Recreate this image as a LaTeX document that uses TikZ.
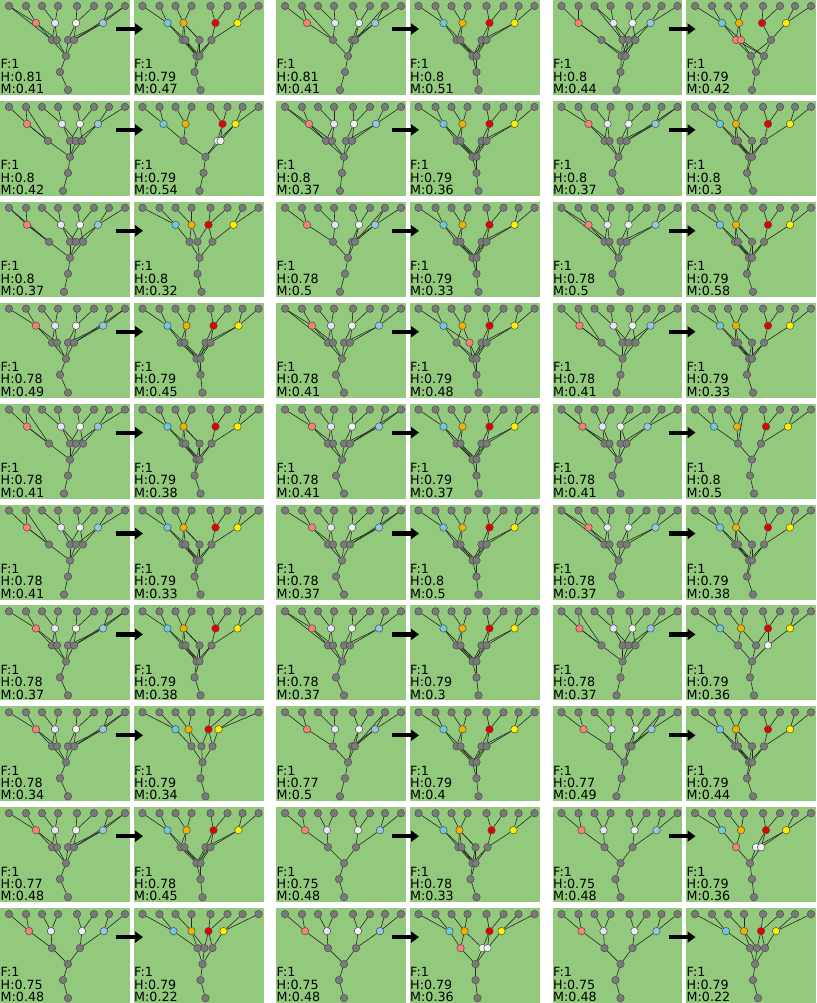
\documentclass[tikz,border=0pt]{standalone}
\usepackage{fontspec}
\setmainfont{DejaVu Sans}
\usetikzlibrary{arrows.meta}
\pgfdeclarelayer{back}\pgfdeclarelayer{edges}
\pgfsetlayers{back,edges,main}
\definecolor{bggreen}{RGB}{146,201,125}
\definecolor{G}{RGB}{122,122,122}
\definecolor{Ac1}{RGB}{250,128,114}
\definecolor{Ac2}{RGB}{228,228,250}
\definecolor{Ac3}{RGB}{238,248,240}
\definecolor{Ac4}{RGB}{150,200,230}
\definecolor{Bc1}{RGB}{110,200,222}
\definecolor{Bc2}{RGB}{240,180,0}
\definecolor{Bc3}{RGB}{232,0,0}
\definecolor{Bc4}{RGB}{255,240,0}
\colorlet{S}{Ac1}
\colorlet{W}{Ac3}
\tikzset{
  gn/.style={circle,draw=black!70,line width=0.5pt,fill=G,inner sep=0pt,minimum size=7.5pt},
  edge/.style={draw=black!85,line width=0.6pt},
  lbl/.style={anchor=base west,inner sep=0pt,font=\fontsize{12.7}{12.7}\selectfont},
  bigarrow/.style={-{Triangle[length=8pt,width=11pt]},line width=4.2pt}
}
\newcommand\place[3]{\begin{scope}[shift={(#1,#2)}]#3\end{scope}}
\newcommand\grp[3]{%
  \begin{pgfonlayer}{back}
    \fill[bggreen] (#1,#2) rectangle ++(129.5,95);
    \fill[bggreen] ({#1+133.5},#2) rectangle ++(130,95);
  \end{pgfonlayer}
  \coordinate (#3s) at ({#1+116},{#2+29});
  \coordinate (#3e) at ({#1+143},{#2+29});
  \draw[bigarrow] (#3s) -- (#3e);}
\newcommand\twotext[3]{%
  \node[lbl] (#1h) at (0.5,81.2) {H:#2};
  \node[lbl] (#1mm) at (0.5,93.6) {M:#3};}
% #1 id, #2 side, #3 mids, #4 level-2 x/a/b/colour, #5 level-3 xs, #6 chain x, #7 root x, #8 extras leaf/l2, #9 texts
\newcommand\pan[9]{%
  \foreach \xa [count=\ia] in {9,26,42,58,77,94,109,125} \node[gn] (#1l\ia) at (\xa,6) {};
  \foreach \xa [count=\ia] in {#3} \node[gn,fill=#2c\ia] (#1m\ia) at (\xa,23) {};
  \foreach \xa/\pa/\pb/\col [count=\ia] in {#4} \node[gn,fill=\col] (#1n\ia) at (\xa,40) {};
  \foreach \xa [count=\ia] in {#5} \node[gn] (#1t\ia) at (\xa,56) {};
  \node[gn] (#1c) at (#6,72) {};
  \node[gn] (#1r) at (#7,90) {};
  \begin{pgfonlayer}{edges}
    \foreach \ia in {1,...,8} {\pgfmathtruncatemacro\mm{(\ia+1)/2}\draw[edge] (#1l\ia) -- (#1m\mm);}
    \foreach \xa/\pa/\pb/\col [count=\ia] in {#4} {%
      \draw[edge] (#1m\pa) -- (#1n\ia);
      \draw[edge] (#1m\pb) -- (#1n\ia);
      \foreach \xb [count=\ib] in {#5} \draw[edge] (#1n\ia) -- (#1t\ib);}
    \foreach \xb [count=\ib] in {#5} \draw[edge] (#1t\ib) -- (#1c);
    \draw[edge] (#1c) -- (#1r);
    \foreach \pa/\pb in {#8} {\ifnum\pa>0 \draw[edge] (#1l\pa) -- (#1n\pb);\fi}
  \end{pgfonlayer}
  \node[lbl] (#1f) at (0.5,68.8) {F:1};
  \twotext{#1}#9}
\begin{document}
\begin{tikzpicture}[x=1pt,y=-1pt]
\useasboundingbox (0,0) rectangle (816,1003);
% ---------------- row 1
\grp{0}{0}{r1g1}
\place{0}{0}{\pan{r1g1a}{A}{36,55,76,103}{52/1/2/G,57/1/2/G,68/3/4/G,74/3/4/G}{66}{60}{68}{1/1,8/4}{{0.81}{0.41}}}
\place{133.5}{0}{\pan{r1g1b}{B}{34,50,82,104}{49/1/2/G,52/1/2/G,66/2/2/G,78/3/4/G}{63,66}{61}{67}{0/0}{{0.79}{0.47}}}
\grp{276}{0}{r1g2}
\place{276}{0}{\pan{r1g2a}{A}{31,59,83,99}{57/1/2/G,76/3/4/G,79/3/4/G}{72}{69}{64}{2/1,7/3}{{0.81}{0.41}}}
\place{409.5}{0}{\pan{r1g2b}{B}{34,53,80,105}{47/1/2/G,51/1/2/G,72/3/4/G,77/3/4/G}{63,67}{67}{69}{0/0}{{0.8}{0.51}}}
\grp{552.5}{0}{r1g3}
\place{552.5}{0}{\pan{r1g3a}{A}{26,61,80,98}{49/1/1/G,70/2/3/G,76/2/4/G,83/3/4/G}{69,73}{68}{64}{3/2}{{0.8}{0.44}}}
\place{686}{0}{\pan{r1g3b}{B}{36,53,76,100}{50/1/2/S,55/1/2/S,85/3/4/G}{65,78}{70}{66}{0/0}{{0.79}{0.42}}}
% ---------------- row 2
\grp{0}{100.9}{r2g1}
\place{0}{100.9}{\pan{r2g1a}{A}{27,62,80,98}{48/1/1/G,70/2/3/G,76/2/4/G,82/3/4/G}{70}{68}{63}{2/1}{{0.8}{0.42}}}
\place{133.5}{100.9}{\pan{r2g1b}{B}{30,52,89,102}{50/1/2/G,84/3/4/W,87/3/4/W}{72}{70}{66}{0/0}{{0.79}{0.54}}}
\grp{276}{100.9}{r2g2}
\place{276}{100.9}{\pan{r2g2a}{A}{33,58,78,100}{50/1/2/G,56/1/2/G,70/3/4/G,76/3/4/G}{68}{66}{64}{1/1}{{0.8}{0.37}}}
\place{409.5}{100.9}{\pan{r2g2b}{B}{34,53,80,105}{47/1/2/G,51/1/2/G,72/3/4/G,77/3/4/G}{63,67}{67}{69}{0/0}{{0.79}{0.36}}}
\grp{552.5}{100.9}{r2g3}
\place{552.5}{100.9}{\pan{r2g3a}{A}{36,55,76,103}{52/1/2/G,57/1/2/G,68/3/4/G,74/3/4/G}{66}{60}{68}{8/4}{{0.8}{0.37}}}
\place{686}{100.9}{\pan{r2g3b}{B}{34,50,82,104}{49/1/2/G,52/1/2/G,66/2/2/G,78/3/4/G}{63,66}{61}{67}{0/0}{{0.8}{0.3}}}
% ---------------- row 3
\grp{0}{201.8}{r3g1}
\place{0}{201.8}{\pan{r3g1a}{A}{27,61,80,98}{49/1/1/G,70/2/3/G,76/2/4/G,83/3/4/G}{70}{68}{64}{1/1}{{0.8}{0.37}}}
\place{133.5}{201.8}{\pan{r3g1b}{B}{42,58,75,100}{56/1/2/G,64/2/3/G,79/3/4/G}{66}{64}{68}{0/0}{{0.8}{0.32}}}
\grp{276}{201.8}{r3g2}
\place{276}{201.8}{\pan{r3g2a}{A}{31,59,83,99}{57/1/2/G,76/3/4/G,79/3/4/G}{72}{69}{64}{7/3}{{0.78}{0.5}}}
\place{409.5}{201.8}{\pan{r3g2b}{B}{34,53,80,105}{47/1/2/G,51/1/2/G,72/3/4/G,77/3/4/G}{63,67}{67}{69}{0/0}{{0.79}{0.33}}}
\grp{552.5}{201.8}{r3g3}
\place{552.5}{201.8}{\pan{r3g3a}{A}{36,55,76,103}{52/1/2/G,57/1/2/G,68/3/4/G,74/3/4/G}{66}{60}{68}{1/1}{{0.78}{0.5}}}
\place{686}{201.8}{\pan{r3g3b}{B}{34,50,82,104}{49/1/2/G,52/1/2/G,66/2/2/G,78/3/4/G}{63,66}{61}{67}{0/0}{{0.79}{0.58}}}
% ---------------- row 4
\grp{0}{302.7}{r4g1}
\place{0}{302.7}{\pan{r4g1a}{A}{36,55,76,103}{52/1/2/G,57/1/2/G,68/3/4/G,74/3/4/G}{66}{60}{68}{8/4}{{0.78}{0.49}}}
\place{133.5}{302.7}{\pan{r4g1b}{B}{34,53,80,105}{47/1/2/G,51/1/2/G,72/3/4/G,77/3/4/G}{63,67}{67}{69}{0/0}{{0.79}{0.45}}}
\grp{276}{302.7}{r4g2}
\place{276}{302.7}{\pan{r4g2a}{A}{36,55,76,103}{52/1/2/G,57/1/2/G,68/3/4/G,74/3/4/G}{66}{60}{68}{1/1}{{0.78}{0.41}}}
\place{409.5}{302.7}{\pan{r4g2b}{B}{34,53,80,105}{47/1/2/G,60/1/2/S,72/3/4/G,77/3/4/G}{63,67}{67}{69}{0/0}{{0.79}{0.48}}}
\grp{552.5}{302.7}{r4g3}
\place{552.5}{302.7}{\pan{r4g3a}{A}{27,61,80,98}{49/1/1/G,70/2/3/G,76/2/4/G,83/3/4/G}{70}{68}{64}{2/1}{{0.78}{0.41}}}
\place{686}{302.7}{\pan{r4g3b}{B}{34,50,82,104}{49/1/2/G,52/1/2/G,66/2/2/G,78/3/4/G}{63,66}{61}{67}{0/0}{{0.79}{0.33}}}
% ---------------- row 5
\grp{0}{403.6}{r5g1}
\place{0}{403.6}{\pan{r5g1a}{A}{27,61,80,98}{49/1/1/G,70/2/3/G,76/2/4/G,83/3/4/G}{70}{68}{64}{2/1}{{0.78}{0.41}}}
\place{133.5}{403.6}{\pan{r5g1b}{B}{34,50,82,104}{49/1/2/G,52/1/2/G,66/2/2/G,78/3/4/G}{63,66}{61}{67}{0/0}{{0.79}{0.38}}}
\grp{276}{403.6}{r5g2}
\place{276}{403.6}{\pan{r5g2a}{A}{36,55,76,103}{52/1/2/G,57/1/2/G,68/3/4/G,74/3/4/G}{66}{60}{68}{8/4}{{0.78}{0.41}}}
\place{409.5}{403.6}{\pan{r5g2b}{B}{34,53,80,105}{47/1/2/G,51/1/2/G,72/3/4/G,77/3/4/G}{63,67}{67}{69}{0/0}{{0.79}{0.37}}}
\grp{552.5}{403.6}{r5g3}
\place{552.5}{403.6}{\pan{r5g3a}{A}{30,50,68,95}{52/1/2/G,57/1/2/G,68/3/4/G,74/3/4/G}{66}{60}{68}{1/1}{{0.78}{0.41}}}
\place{686}{403.6}{\pan{r5g3b}{B}{28,51,80,102}{52/1/2/G,75/3/4/G}{66}{64}{68}{4/1}{{0.8}{0.5}}}
% ---------------- row 6
\grp{0}{504.5}{r6g1}
\place{0}{504.5}{\pan{r6g1a}{A}{27,61,80,98}{49/1/1/G,70/2/3/G,76/2/4/G,83/3/4/G}{70}{68}{64}{2/1}{{0.78}{0.41}}}
\place{133.5}{504.5}{\pan{r6g1b}{B}{34,50,82,104}{49/1/2/G,52/1/2/G,66/2/2/G,78/3/4/G}{63,66}{61}{67}{0/0}{{0.79}{0.33}}}
\grp{276}{504.5}{r6g2}
\place{276}{504.5}{\pan{r6g2a}{A}{36,55,76,103}{52/1/2/G,57/1/2/G,68/3/4/G,74/3/4/G}{66}{60}{68}{8/4}{{0.78}{0.37}}}
\place{409.5}{504.5}{\pan{r6g2b}{B}{34,53,80,105}{47/1/2/G,51/1/2/G,72/3/4/G,77/3/4/G}{63,67}{67}{69}{0/0}{{0.8}{0.5}}}
\grp{552.5}{504.5}{r6g3}
\place{552.5}{504.5}{\pan{r6g3a}{A}{36,55,76,103}{52/1/2/G,57/1/2/G,68/3/4/G,74/3/4/G}{66}{60}{68}{1/1}{{0.78}{0.37}}}
\place{686}{504.5}{\pan{r6g3b}{B}{34,50,82,104}{49/1/2/G,52/1/2/G,66/2/2/G,78/3/4/G}{63,66}{61}{67}{0/0}{{0.79}{0.38}}}
% ---------------- row 7
\grp{0}{605.4}{r7g1}
\place{0}{605.4}{\pan{r7g1a}{A}{36,55,76,103}{52/1/2/G,57/1/2/G,68/3/4/G,74/3/4/G}{66}{60}{68}{8/4}{{0.78}{0.37}}}
\place{133.5}{605.4}{\pan{r7g1b}{B}{34,50,82,104}{49/1/2/G,52/1/2/G,66/2/2/G,78/3/4/G}{63,66}{61}{67}{0/0}{{0.79}{0.38}}}
\grp{276}{605.4}{r7g2}
\place{276}{605.4}{\pan{r7g2a}{A}{36,55,76,103}{52/1/2/G,57/1/2/G,68/3/4/G,74/3/4/G}{66}{60}{68}{1/1}{{0.78}{0.37}}}
\place{409.5}{605.4}{\pan{r7g2b}{B}{34,53,80,105}{47/1/2/G,51/1/2/G,72/3/4/G,77/3/4/G}{63,67}{67}{69}{0/0}{{0.79}{0.3}}}
\grp{552.5}{605.4}{r7g3}
\place{552.5}{605.4}{\pan{r7g3a}{A}{27,61,80,98}{49/1/1/G,70/2/3/G,76/2/4/G,83/3/4/G}{70}{68}{64}{2/1}{{0.78}{0.37}}}
\place{686}{605.4}{\pan{r7g3b}{B}{34,55,82,104}{52/1/2/G,70/2/3/G,82/3/4/W}{66}{64}{68}{0/0}{{0.79}{0.36}}}
% ---------------- row 8
\grp{0}{706.3}{r8g1}
\place{0}{706.3}{\pan{r8g1a}{A}{36,55,76,103}{52/1/2/G,57/1/2/G,68/3/4/G,74/3/4/G}{66}{60}{68}{8/4}{{0.78}{0.34}}}
\place{133.5}{706.3}{\pan{r8g1b}{B}{42,55,75,85}{58/1/2/G,68/2/3/G,79/3/4/G}{69}{67}{72}{0/0}{{0.79}{0.34}}}
\grp{276}{706.3}{r8g2}
\place{276}{706.3}{\pan{r8g2a}{A}{31,59,83,99}{57/1/2/G,76/3/4/G,79/3/4/G}{72}{69}{64}{7/3}{{0.77}{0.5}}}
\place{409.5}{706.3}{\pan{r8g2b}{B}{34,53,80,105}{47/1/2/G,51/1/2/G,72/3/4/G,77/3/4/G}{63,67}{67}{69}{0/0}{{0.79}{0.4}}}
\grp{552.5}{706.3}{r8g3}
\place{552.5}{706.3}{\pan{r8g3a}{A}{31,59,83,99}{57/1/2/G,76/3/4/G,79/3/4/G}{72}{69}{64}{7/3}{{0.77}{0.49}}}
\place{686}{706.3}{\pan{r8g3b}{B}{34,50,82,104}{49/1/2/G,52/1/2/G,66/2/2/G,78/3/4/G}{63,66}{61}{67}{0/0}{{0.79}{0.44}}}
% ---------------- row 9
\grp{0}{807.2}{r9g1}
\place{0}{807.2}{\pan{r9g1a}{A}{36,55,76,103}{52/1/2/G,57/1/2/G,68/3/4/G,74/3/4/G}{66}{60}{68}{8/4}{{0.77}{0.48}}}
\place{133.5}{807.2}{\pan{r9g1b}{B}{34,53,80,105}{47/1/2/G,51/1/2/G,72/3/4/G,77/3/4/G}{63,67}{67}{69}{0/0}{{0.78}{0.45}}}
\grp{276}{807.2}{r9g2}
\place{276}{807.2}{\pan{r9g2a}{A}{29,51,82,104}{52/1/2/G,80/3/4/G}{68}{63}{68}{0/0}{{0.75}{0.48}}}
\place{409.5}{807.2}{\pan{r9g2b}{B}{34,50,82,104}{49/1/2/G,52/1/2/G,66/2/2/G,78/3/4/G}{63,66}{61}{67}{0/0}{{0.78}{0.33}}}
\grp{552.5}{807.2}{r9g3}
\place{552.5}{807.2}{\pan{r9g3a}{A}{29,51,82,104}{52/1/2/G,80/3/4/G}{68}{63}{68}{0/0}{{0.75}{0.48}}}
\place{686}{807.2}{\pan{r9g3b}{B}{36,55,80,100}{50/1/2/S,70/3/4/W,75/3/4/W}{64}{66}{68}{0/0}{{0.79}{0.36}}}
% ---------------- row 10
\grp{0}{908.1}{r10g1}
\place{0}{908.1}{\pan{r10g1a}{A}{29,51,82,104}{52/1/2/G,80/3/4/G}{68}{63}{68}{0/0}{{0.75}{0.48}}}
\place{133.5}{908.1}{\pan{r10g1b}{B}{40,58,75,90}{64/1/2/G,71/2/3/G,79/3/4/G}{69}{67}{72}{0/0}{{0.79}{0.22}}}
\grp{276}{908.1}{r10g2}
\place{276}{908.1}{\pan{r10g2a}{A}{29,51,82,104}{52/1/2/G,80/3/4/G}{68}{63}{68}{0/0}{{0.75}{0.48}}}
\place{409.5}{908.1}{\pan{r10g2b}{B}{40,55,80,92}{51/1/2/S,73/2/3/W,78/3/4/W}{66}{66}{68}{0/0}{{0.79}{0.36}}}
\grp{552.5}{908.1}{r10g3}
\place{552.5}{908.1}{\pan{r10g3a}{A}{29,51,82,104}{52/1/2/G,80/3/4/G}{68}{63}{68}{0/0}{{0.75}{0.48}}}
\place{686}{908.1}{\pan{r10g3b}{B}{40,58,75,90}{64/1/2/G,71/2/3/G,79/3/4/G}{69}{67}{72}{0/0}{{0.79}{0.22}}}
\end{tikzpicture}
\end{document}
